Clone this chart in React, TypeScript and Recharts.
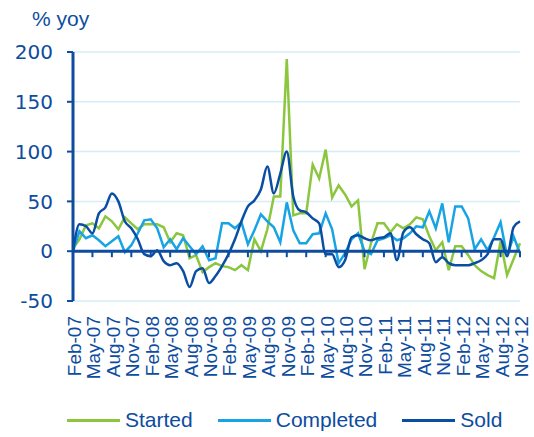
import React from "react";
import { LineChart, Line, XAxis, YAxis, CartesianGrid, ReferenceLine } from "recharts";

const months = [
  "Feb-07","Mar-07","Apr-07","May-07","Jun-07","Jul-07","Aug-07","Sep-07","Oct-07","Nov-07","Dec-07",
  "Jan-08","Feb-08","Mar-08","Apr-08","May-08","Jun-08","Jul-08","Aug-08","Sep-08","Oct-08","Nov-08","Dec-08",
  "Jan-09","Feb-09","Mar-09","Apr-09","May-09","Jun-09","Jul-09","Aug-09","Sep-09","Oct-09","Nov-09","Dec-09",
  "Jan-10","Feb-10","Mar-10","Apr-10","May-10","Jun-10","Jul-10","Aug-10","Sep-10","Oct-10","Nov-10","Dec-10",
  "Jan-11","Feb-11","Mar-11","Apr-11","May-11","Jun-11","Jul-11","Aug-11","Sep-11","Oct-11","Nov-11","Dec-11",
  "Jan-12","Feb-12","Mar-12","Apr-12","May-12","Jun-12","Jul-12","Aug-12","Sep-12","Oct-12","Nov-12",
];

const tickLabels = [
  "Feb-07","May-07","Aug-07","Nov-07","Feb-08","May-08","Aug-08","Nov-08",
  "Feb-09","May-09","Aug-09","Nov-09","Feb-10","May-10","Aug-10","Nov-10",
  "Feb-11","May-11","Aug-11","Nov-11","Feb-12","May-12","Aug-12","Nov-12",
];

const started = [
  3, 12, 26, 28, 23, 35, 30, 22, 34, 28, 22,
  27, 27, 27, 24, 9, 18, 16, -7, -4, -21, -16, -12,
  -15, -16, -19, -14, -19, 12, 0, 22, 55, 55, 193, 36,
  38, 38, 87, 73, 102, 54, 66, 57, 45, 51, -18, 8,
  28, 28, 19, 27, 23, 27, 34, 32, 15, 1, 9, -19,
  5, 5, -4, -14, -20, -24, -27, 10, -24, -8, 8,
];

const completed = [
  0, 20, 13, 16, 11, 5, 10, 15, -1, 6, 18,
  31, 32, 23, 4, 12, 2, 13, 5, -3, 5, -9, -7,
  28, 28, 23, 29, 7, 21, 37, 30, 24, 9, 49, 21,
  8, 8, 17, 18, 38, 22, -12, -2, 12, 18, 0, -3,
  11, 13, 16, 11, 13, 18, 25, 24, 40, 23, 48, 9,
  45, 45, 33, 2, 12, 1, 14, 29, -5, 15, -2,
];

const sold = [
  0, 27, 25, 18, 38, 44, 58, 50, 30, 23, 12,
  -3, -5, 1, -10, -14, -12, -20, -36, -20, -17, -32, -25,
  -15, -3, 12, 30, 45, 51, 62, 85, 58, 78, 100, 55,
  41, 39, 33, 28, -3, -3, -16, -9, 14, 16, 13, 11,
  13, 14, 18, -9, 19, 24, 17, 12, 8, -11, -6, -12,
  -14, -14, -14, -12, -9, -3, 12, 12, -5, 24, 30,
];

const yTicks = [-50, 0, 50, 100, 150, 200];

const BLUE = "#0d4c9e";
const GREEN = "#8cc63f";
const CYAN = "#18a4e4";
const DARK = "#0a4ea3";
const GRID = "#d6ecf7";
const ARIAL = "'Liberation Sans', Arial, sans-serif";
const DEJAVU = "'DejaVu Sans', sans-serif";

const series = [
  { key: "started", name: "Started", color: GREEN, type: "linear" },
  { key: "completed", name: "Completed", color: CYAN, type: "linear" },
  { key: "sold", name: "Sold", color: DARK, type: "monotone" },
];

const tickSet = new Set(tickLabels);

const data = months.map((m, i) => ({
  m,
  started: started[i],
  completed: completed[i],
  sold: sold[i],
  tickMark: tickSet.has(m) ? 0 : null,
}));

const XTick = (props: any) => {
  const { x, y, payload } = props;
  return (
    <text
      x={x}
      y={y}
      transform={`rotate(-90 ${x} ${y})`}
      textAnchor="end"
      dy="0.42em"
      fill={BLUE}
      fontSize={19}
      fontFamily={ARIAL}
    >
      {payload.value}
    </text>
  );
};

const TickDot = (props: any) => {
  const { cx, cy, index } = props;
  if (cx == null || cy == null || props.value == null) return <g key={`t${index}`} />;
  return <line key={`t${index}`} x1={cx} y1={cy} x2={cx} y2={cy + 6} stroke={BLUE} strokeWidth={2} />;
};

export default function App() {
  return (
    <div style={{ position: "absolute", left: 0, top: 0, width: 534, height: 437, background: "#fff" }}>
      <div style={{ position: "absolute", left: 32, top: 8, fontSize: 21, lineHeight: "21px", color: BLUE, fontFamily: ARIAL }}>% yoy</div>
      <LineChart
        width={534}
        height={437}
        data={data}
        margin={{ top: 52, right: 14, bottom: 64, left: 0 }}
      >
        <CartesianGrid horizontal vertical={false} stroke={GRID} strokeWidth={1.5} />
        <XAxis
          dataKey="m"
          interval={2}
          axisLine={false}
          tickLine={false}
          tickSize={6}
          tickMargin={9}
          height={72}
          tick={<XTick />}
        />
        <YAxis
          domain={[-50, 200]}
          ticks={yTicks}
          width={73}
          axisLine={{ stroke: BLUE, strokeWidth: 3 }}
          tickLine={{ stroke: BLUE, strokeWidth: 2 }}
          tickSize={6}
          tickMargin={14}
          tick={{ fill: BLUE, fontSize: 20, fontFamily: DEJAVU }}
        />
        {series.map((s) => (
          <Line
            key={s.key}
            dataKey={s.key}
            name={s.name}
            type={s.type as any}
            stroke={s.color}
            strokeWidth={2.5}
            dot={false}
            activeDot={false}
            isAnimationActive={false}
          />
        ))}
        <ReferenceLine y={0} stroke={BLUE} strokeWidth={3} />
        <Line
          dataKey="tickMark"
          stroke="none"
          strokeWidth={0}
          dot={<TickDot />}
          activeDot={false}
          legendType="none"
          isAnimationActive={false}
        />
      </LineChart>
      <div style={{ position: "absolute", left: 67, top: 408, display: "flex", alignItems: "center", gap: 25, fontFamily: ARIAL }}>
        {series.map((s) => (
          <div key={s.key} style={{ display: "flex", alignItems: "center" }}>
            <div style={{ width: 53, height: 3, background: s.color, marginRight: 5 }} />
            <span style={{ fontSize: 21, lineHeight: "24px", color: BLUE }}>{s.name}</span>
          </div>
        ))}
      </div>
    </div>
  );
}
